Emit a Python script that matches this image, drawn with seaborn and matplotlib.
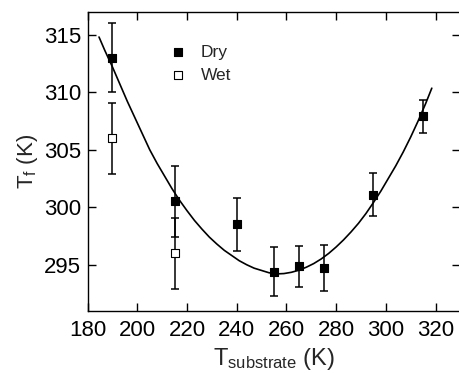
import matplotlib
matplotlib.use("Agg")
import matplotlib.pyplot as plt
import numpy as np
import pandas as pd
import seaborn as sns

# ---- data ----
dry_x = [190, 215, 240, 255, 265, 275, 295, 315]
dry_y = [313.0, 300.5, 298.5, 294.4, 294.85, 294.7, 301.1, 307.9]
dry_err = [3.0, 3.1, 2.3, 2.1, 1.8, 2.0, 1.9, 1.45]

wet_x = [190, 215]
wet_y = [306.0, 296.0]
wet_err = [3.1, 3.1]

# fitted curve, points
fit_x = [184.6, 187, 190, 193, 196, 199, 202, 205, 208, 211, 214, 217,
         220, 223, 226, 229, 232, 235, 238, 241, 244, 247, 250, 253, 256,
         259, 262, 265, 268, 271, 274, 277, 280, 283, 286, 289, 292, 295,
         298, 301, 304, 307, 310, 313, 316, 318.5]
fit_y = [314.8, 313.6, 312.2, 310.7, 309.2, 307.8, 306.4, 305.0, 303.8,
         302.7, 301.6, 300.6, 299.7, 298.85, 298.1, 297.4, 296.8, 296.25,
         295.8, 295.35, 295.0, 294.7, 294.5, 294.3, 294.2, 294.23, 294.34,
         294.52, 294.78, 295.1, 295.5, 295.98, 296.54, 297.16, 297.85,
         298.6, 299.45, 300.4, 301.4, 302.5, 303.6, 304.8, 306.1, 307.5,
         309.0, 310.35]

x_ticks = [180, 200, 220, 240, 260, 280, 300, 320]
y_ticks = [295, 300, 305, 310, 315]

dry = pd.DataFrame({"T_sub": dry_x, "T_f": dry_y, "err": dry_err})
wet = pd.DataFrame({"T_sub": wet_x, "T_f": wet_y, "err": wet_err})
fit = pd.DataFrame({"T_sub": fit_x, "T_f": fit_y})

sns.set_theme(style="ticks")
plt.rcParams["font.family"] = ["Liberation Sans", "DejaVu Sans"]
plt.rcParams["mathtext.fontset"] = "custom"
plt.rcParams["mathtext.rm"] = "Liberation Sans"
plt.rcParams["mathtext.it"] = "Liberation Sans:italic"
plt.rcParams["axes.linewidth"] = 1.0

fig = plt.figure(figsize=(4.59, 3.73), dpi=100)
ax = fig.add_axes([0.1908, 0.167, 1.003 - 0.1908, 0.9686 - 0.167])

# error bars
for df in (dry, wet):
    ax.errorbar(df["T_sub"], df["T_f"], yerr=df["err"], fmt="none",
                ecolor="black", elinewidth=1.1, capsize=3.2, capthick=1.1,
                zorder=2)

# fitted curve
sns.lineplot(data=fit, x="T_sub", y="T_f", ax=ax, color="black",
             linewidth=1.2, sort=False, estimator=None, zorder=3)

# markers
sns.scatterplot(data=dry, x="T_sub", y="T_f", ax=ax, marker="s", s=36,
                color="black", edgecolor="black", linewidth=0.8,
                label="Dry", zorder=4)
sns.scatterplot(data=wet, x="T_sub", y="T_f", ax=ax, marker="s", s=36,
                color="white", edgecolor="black", linewidth=0.8,
                label="Wet", zorder=4)

ax.set_xlim(180, 330)
ax.set_ylim(291, 317)
ax.set_xticks(x_ticks)
ax.set_yticks(y_ticks)
ax.tick_params(direction="in", top=True, right=True, length=5.5, width=1.0,
               labelsize=16, colors="black")
ax.tick_params(axis="x", pad=6.5)
ax.tick_params(axis="y", pad=4.5)

ax.set_xlabel(r"$\mathrm{T_{substrate}}$ (K)", fontsize=17, labelpad=4)
ax.set_ylabel(r"$\mathrm{T_{f}}$ (K)", fontsize=16, labelpad=3)

for s in ax.spines.values():
    s.set_color("black")
    s.set_linewidth(1.0)

leg = ax.legend(loc="center left", bbox_to_anchor=(0.2193, 0.826),
                frameon=False, fontsize=12.5, handlelength=1.0,
                handletextpad=0.8, borderpad=0, borderaxespad=0,
                labelspacing=0.45, markerscale=1.0)

fig.savefig("out.png", dpi=100)
